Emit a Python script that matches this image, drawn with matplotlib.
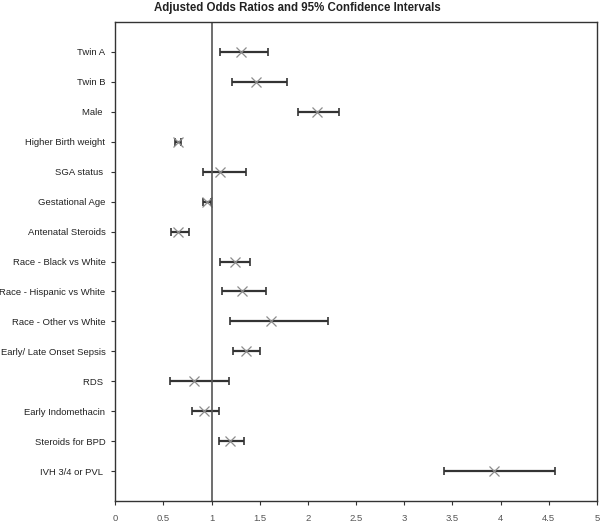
import matplotlib
matplotlib.use("Agg")
import matplotlib.pyplot as plt
import numpy as np
from matplotlib import font_manager

names = ["Twin A", "Twin B", "Male ", "Higher Birth weight", "SGA status ",
         "Gestational Age", "Antenatal Steroids", "Race - Black vs White",
         "Race - Hispanic vs White", "Race - Other vs White",
         "Early/ Late Onset Sepsis", "RDS ", "Early Indomethacin",
         "Steroids for BPD", "IVH 3/4 or PVL "]
odds = [1.31, 1.46, 2.09, 0.65, 1.09, 0.95, 0.65, 1.24, 1.32, 1.62, 1.36, 0.82, 0.92, 1.19, 3.93]
lower = [1.09, 1.21, 1.90, 0.62, 0.91, 0.91, 0.58, 1.09, 1.11, 1.19, 1.22, 0.57, 0.80, 1.08, 3.41]
upper = [1.59, 1.78, 2.32, 0.68, 1.36, 0.99, 0.77, 1.40, 1.56, 2.21, 1.50, 1.18, 1.08, 1.34, 4.56]
xticks = [0, 0.5, 1, 1.5, 2, 2.5, 3, 3.5, 4, 4.5, 5]

avail = {f.name for f in font_manager.fontManager.ttflist}
fam = "Liberation Sans Narrow" if "Liberation Sans Narrow" in avail else "Liberation Sans"
plt.rcParams['font.family'] = [fam, 'DejaVu Sans']
lab_size = 7.5 if fam.endswith("Narrow") else 6.8

fig = plt.figure(figsize=(6, 5.23), dpi=100)
ax = fig.add_axes([0.192, 0.042, 0.803, 0.916])

y = np.arange(1, len(names) + 1)
odds = np.array(odds)
lo = odds - np.array(lower)
hi = np.array(upper) - odds
ax.errorbar(odds, y, xerr=[lo, hi], fmt='none', ecolor='#333333',
            elinewidth=1.6, capsize=3, capthick=1.2)
ax.plot(odds, y, 'x', color='#8c8c8c', markersize=7.5, markeredgewidth=0.9, linestyle='none')
ax.axvline(1, color='#555555', linewidth=1.2)

ax.set_xlim(0, 5)
ax.set_ylim(16, 0)
ax.set_yticks(y)
ax.set_yticklabels(names, fontsize=lab_size, color='#222222')
ax.set_xticks(xticks)
ax.set_xticklabels([f"{t:g}" for t in xticks], fontsize=lab_size, color='#555555')
ax.tick_params(axis='y', length=3, direction='out', color='#333333', pad=4)
ax.tick_params(axis='x', length=3, direction='out', color='#333333', pad=6)
for s in ax.spines.values():
    s.set_color('#333333')
    s.set_linewidth(1.0)

fig.text(0.495, 0.985, "Adjusted Odds Ratios and 95% Confidence Intervals",
         ha='center', va='center', fontsize=8.3, fontweight='bold', color='#222222')

plt.savefig("out.png", dpi=100)
